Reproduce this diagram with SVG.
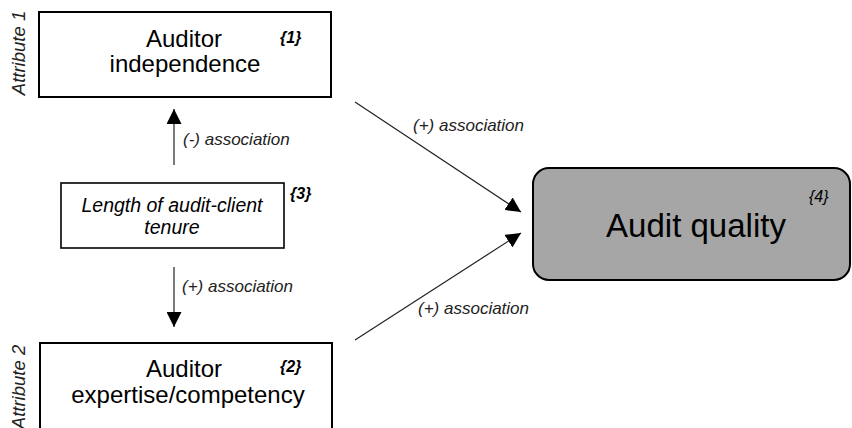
<svg xmlns="http://www.w3.org/2000/svg" width="852" height="428" viewBox="0 0 852 428">
<style>
.box{fill:#fff;stroke:#000;stroke-width:2}
.main{font-family:"Liberation Sans",Arial,sans-serif;font-size:24px;fill:#000;text-anchor:middle}
.tag{font-family:"Liberation Sans",Arial,sans-serif;font-size:16px;font-style:italic;font-weight:bold;fill:#000}
.lbl{font-family:"Liberation Sans",Arial,sans-serif;font-size:17px;font-style:italic;fill:#222}
.attr{font-family:"Liberation Sans",Arial,sans-serif;font-size:18.5px;font-style:italic;fill:#222;text-anchor:middle}
.conn{stroke:#222;stroke-width:1.2;fill:none;marker-end:url(#ah)}
</style>
<defs>
<marker id="ah" markerUnits="userSpaceOnUse" markerWidth="15" markerHeight="15" viewBox="0 0 10 10" refX="10" refY="5" orient="auto">
<path d="M0,0 L10,5 L0,10 z" fill="#000"/>
</marker>
</defs>
<g id="connectors">
<line class="conn" x1="174" y1="165" x2="174" y2="109"/>
<line class="conn" x1="174" y1="267" x2="174" y2="327"/>
<line class="conn" x1="355" y1="102" x2="521" y2="212"/>
<line class="conn" x1="355" y1="340" x2="521" y2="233"/>
<text class="lbl" x="183" y="145">(-) association</text>
<text class="lbl" x="182" y="292">(+) association</text>
<text class="lbl" x="413" y="131">(+) association</text>
<text class="lbl" x="418" y="314">(+) association</text>
</g>
<g id="attribute1">
<rect class="box" x="39" y="12" width="292" height="85"/>
<text class="main" x="184" y="47">Auditor</text>
<text class="main" x="185" y="72">independence</text>
<text class="tag" x="280" y="43">{1}</text>
<text class="attr" transform="translate(25,53) rotate(-90)">Attribute 1</text>
</g>
<g id="tenure">
<rect class="box" x="61" y="183" width="223" height="65" style="stroke-width:1.6"/>
<text class="main" x="172" y="212" style="font-size:19.5px;font-style:italic">Length of audit-client</text>
<text class="main" x="172" y="234" style="font-size:19.5px;font-style:italic">tenure</text>
<text class="tag" x="290" y="199">{3}</text>
</g>
<g id="attribute2">
<rect class="box" x="40" y="343" width="292" height="100"/>
<text class="main" x="184" y="377">Auditor</text>
<text class="main" x="188" y="403">expertise/competency</text>
<text class="tag" x="280" y="372">{2}</text>
<text class="attr" transform="translate(25,387) rotate(-90)">Attribute 2</text>
</g>
<g id="audit-quality">
<rect x="533" y="168" width="317" height="112" rx="16" ry="16" style="fill:#a6a6a6;stroke:#000;stroke-width:2"/>
<text class="main" x="696" y="237" style="font-size:33px">Audit quality</text>
<text class="tag" x="809" y="202" style="font-weight:normal">{4}</text>
</g>
</svg>
